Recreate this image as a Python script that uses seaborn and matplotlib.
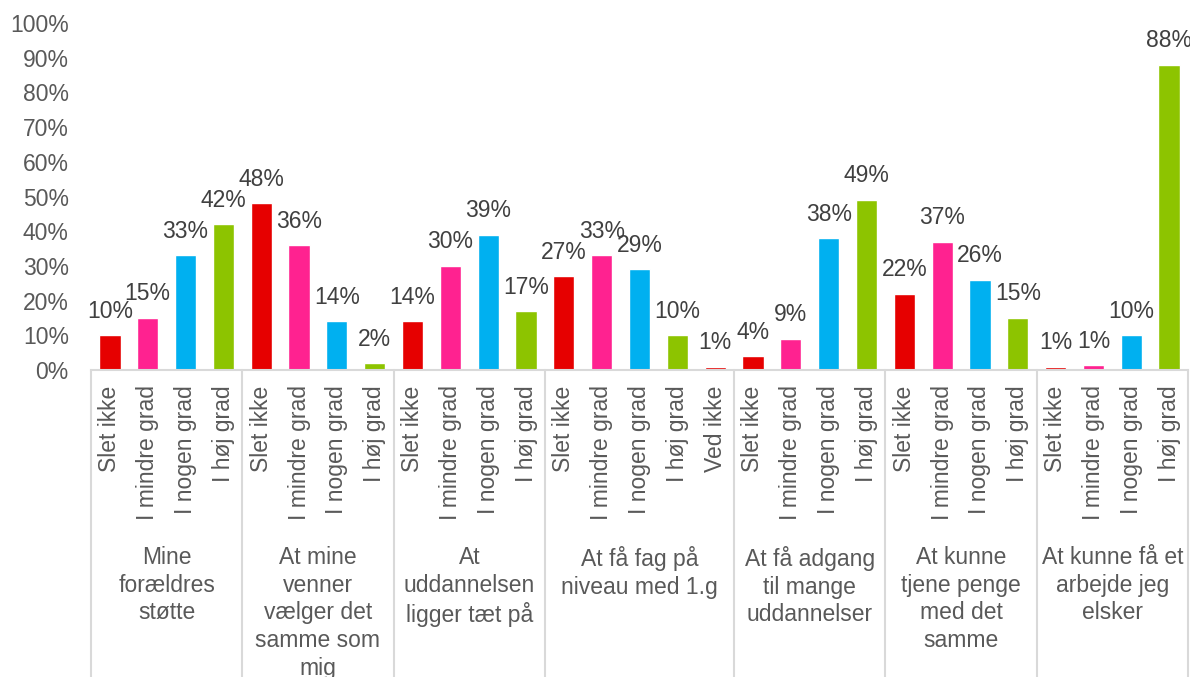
import matplotlib
matplotlib.use("Agg")
import matplotlib.pyplot as plt
import matplotlib.transforms as mtransforms
import seaborn as sns
import pandas as pd

# ---- data ----
groups = [
    "Mine\nforældres\nstøtte",
    "At mine\nvenner\nvælger det\nsamme som\nmig",
    "At\nuddannelsen\nligger tæt på",
    "At få fag på\nniveau med 1.g",
    "At få adgang\ntil mange\nuddannelser",
    "At kunne\ntjene penge\nmed det\nsamme",
    "At kunne få et\narbejde jeg\nelsker",
]
responses_std = ["Slet ikke", "I mindre grad", "I nogen grad", "I høj grad"]
responses_g4 = ["Slet ikke", "I mindre grad", "I nogen grad", "I høj grad", "Ved ikke"]
group_responses = [responses_std, responses_std, responses_std, responses_g4,
                   responses_std, responses_std, responses_std]
values = [
    [0.10, 0.15, 0.33, 0.42],
    [0.48, 0.36, 0.14, 0.02],
    [0.14, 0.30, 0.39, 0.17],
    [0.27, 0.33, 0.29, 0.10, 0.01],
    [0.04, 0.09, 0.38, 0.49],
    [0.22, 0.37, 0.26, 0.15],
    [0.01, 0.014, 0.10, 0.88],
]
colors = {
    "Slet ikke": "#E60000",
    "I mindre grad": "#FF2290",
    "I nogen grad": "#00B0F0",
    "I høj grad": "#8DC400",
    "Ved ikke": "#E60000",
}

rows = []
for gi, (g, resp, vals) in enumerate(zip(groups, group_responses, values)):
    for r, v in zip(resp, vals):
        rows.append({"slot": f"{gi}|{r}", "group": gi, "response": r, "value": v})
df = pd.DataFrame(rows)

sns.set_theme(style="white")
plt.rcParams["font.family"] = ["Liberation Sans", "DejaVu Sans"]

fig = plt.figure(figsize=(11.9, 6.77), dpi=100)
ax = fig.add_axes([91 / 1190, 1 - 370 / 677, (1188 - 91) / 1190, (370 - 23) / 677])

sns.barplot(data=df, x="slot", y="value", hue="response",
            hue_order=["Slet ikke", "I mindre grad", "I nogen grad", "I høj grad", "Ved ikke"],
            palette=colors, order=list(df["slot"]), width=0.56, dodge=False,
            legend=False, ax=ax, saturation=1)

for c in ax.containers:
    ax.bar_label(c, fmt=lambda v: f"{v:.0%}", padding=9, fontsize=16.5, color="#404040")

ax.set_ylim(0, 1.0)
ax.set_yticks([i / 10 for i in range(11)])
ax.set_yticklabels([f"{i * 10}%" for i in range(11)])
ax.set_xticks(range(len(df)))
ax.set_xticklabels(list(df["response"]), rotation=90, va="top", ha="center")
ax.set_xlim(-0.5, len(df) - 0.5)
ax.tick_params(axis="y", length=0, pad=16, labelsize=16.5, labelcolor="#595959")
ax.tick_params(axis="x", length=0, pad=11, labelsize=16.5, labelcolor="#595959")
ax.set_xlabel("")
ax.set_ylabel("")
for s in ["left", "top", "right"]:
    ax.spines[s].set_visible(False)
ax.spines["bottom"].set_color("#D9D9D9")
ax.spines["bottom"].set_linewidth(1.5)

trans = mtransforms.blended_transform_factory(ax.transData, ax.transAxes)
bottom_axes = (370 - 677) / (370 - 23)
start = -0.5
for gi, resp in enumerate(group_responses):
    end = start + len(resp)
    ax.plot([start, start], [0, bottom_axes], transform=trans, color="#D9D9D9",
            lw=1.5, clip_on=False)
    ax.text((start + end) / 2, (370 - 546) / (370 - 23), groups[gi], transform=trans,
            ha="center", va="top", fontsize=16.5, color="#595959", linespacing=1.26)
    start = end
ax.plot([start, start], [0, bottom_axes], transform=trans, color="#D9D9D9",
        lw=1.5, clip_on=False)

fig.savefig("out.png", dpi=100)
